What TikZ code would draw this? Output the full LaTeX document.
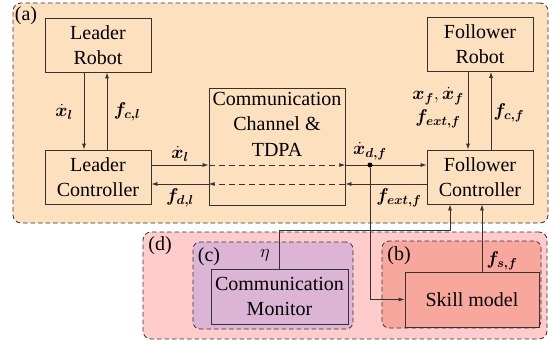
\RequirePackage{fix-cm}
\documentclass[tikz,border=0pt]{standalone}
\usepackage{amsmath}
\usepackage{bm}
\usepackage{fontspec}
\setmainfont{Liberation Serif}
\usetikzlibrary{arrows.meta,calc}

\definecolor{linec}{HTML}{333333}
\definecolor{areaA}{HTML}{FDE0BE}
\definecolor{areaD}{HTML}{FFCBCB}
\definecolor{areaC}{HTML}{DCB5D6}
\definecolor{areaB}{HTML}{F7A79C}

\begin{document}
\begin{tikzpicture}[x=1pt,y=-1pt,
  region/.style={draw=linec, line width=0.8pt, dash pattern=on 4.5pt off 3pt,
    rounded corners=8pt, inner sep=0pt},
  block/.style={draw=linec, line width=0.8pt, align=center, inner sep=0pt,
    minimum width=106pt, minimum height=54pt,
    font=\fontsize{20}{25}\selectfont},
  lbl/.style={font=\fontsize{20}{24}\selectfont, inner sep=0pt},
  mlbl/.style={font=\fontsize{18.5}{21}\selectfont, inner sep=0pt, align=center},
  arr/.style={draw=linec, line width=0.8pt, -{Latex[length=6pt,width=4pt]}},
  chan/.style={dash pattern=on 6pt off 4pt},
  dot/.style={circle, fill=black, inner sep=0pt, minimum size=5pt}
]
\useasboundingbox (0,0) rectangle (549,341);

% grouped regions
\node[region, fill=areaA, minimum width=535pt, minimum height=220pt] (ra) at (280.5,113) {};
\node[region, fill=areaD, minimum width=404pt, minimum height=107pt] (rd) at (345,285.5) {};
\node[region, fill=areaC, minimum width=160pt, minimum height=87pt, rounded corners=7pt] (rc) at (273,285.5) {};
\node[region, fill=areaB, minimum width=159pt, minimum height=87pt, rounded corners=7pt] (rb) at (461.5,284.5) {};

\node[lbl] (la) at (26,16) {(a)};
\node[lbl] (ld) at (160,246) {(d)};
\node[lbl] (lc) at (209,257) {(c)};
\node[lbl] (lb) at (399,256) {(b)};

% blocks
\node[block] (LR) at (98,45) {Leader\\Robot};
\node[block] (LC) at (98,177) {Leader\\Controller};
\node[block, minimum width=136pt, minimum height=117pt] (comm) at (277,146.5) {};
\node[align=center, font=\fontsize{20}{25.5}\selectfont, inner sep=0pt] (commtxt) at (277,124) {Communication\\Channel \&\\TDPA};
\node[block] (FR) at (480,44.5) {Follower\\Robot};
\node[block] (FC) at (480,177) {Follower\\Controller};
\node[block, minimum width=137pt, minimum height=55pt] (CM) at (279.5,296.5) {Communication\\Monitor};
\node[block, minimum width=134pt, minimum height=55pt] (SM) at (472,299.5) {Skill model};

% leader side
\draw[arr] ([xshift=-14pt]LR.south) -- ([xshift=-14pt]LC.north);
\draw[arr] ([xshift=9pt]LC.north) -- ([xshift=9pt]LR.south);
\node[mlbl] (t1) at (64,112) {$\dot{\bm{x}}_{\bm{l}}$};
\node[mlbl] (t2) at (127,112) {$\bm{f}_{\bm{c,l}}$};

% follower side
\draw[arr] ([xshift=-12pt]FR.south) -- ([xshift=-12pt]FC.north);
\draw[arr] ([xshift=11pt]FC.north) -- ([xshift=11pt]FR.south);
\node[mlbl] (t3) at (438,96) {$\bm{x}_{\bm{f}},\dot{\bm{x}}_{\bm{f}}$};
\node[mlbl] (t4) at (438,119) {$\bm{f}_{\bm{ext,f}}$};
\node[mlbl] (t5) at (509,113) {$\bm{f}_{\bm{c,f}}$};

% forward channel
\coordinate (up) at ([yshift=12pt]LC.east);
\draw[arr] (up) -- (up -| comm.west);
\draw[arr, chan] (up -| comm.west) -- (up -| comm.east);
\draw[arr] (up -| comm.east) -- (up -| FC.west);
\node[mlbl] (t6) at (180,154) {$\dot{\bm{x}}_{\bm{l}}$};
\node[mlbl] (t7) at (370,151) {$\dot{\bm{x}}_{\bm{d,f}}$};

% backward channel
\coordinate (lo) at ([yshift=-7pt]FC.west);
\draw[arr] (lo) -- (lo -| comm.east);
\draw[arr, chan] (lo -| comm.east) -- (lo -| comm.west);
\draw[arr] (lo -| comm.west) -- (lo -| LC.east);
\node[mlbl] (t8) at (180,198) {$\bm{f}_{\bm{d,l}}$};
\node[mlbl] (t9) at (399,198) {$\bm{f}_{\bm{ext,f}}$};

% branch to the skill model
\node[dot] (br) at (370,165) {};
\draw[arr] (br) |- (SM.west);

% monitor output
\coordinate (fin1) at ([xshift=-30pt]FC.south);
\coordinate (etay) at (0,230);
\draw[arr] (CM.north) |- (fin1 |- etay) -- (fin1);
\node[mlbl] (t10) at (265,255) {$\eta$};

% skill model output
\coordinate (fin2) at ([xshift=2pt]FC.south);
\draw[arr] (SM.north -| fin2) -- (fin2);
\node[mlbl] (t11) at (502,261) {$\bm{f}_{\bm{s,f}}$};
\end{tikzpicture}
\end{document}
